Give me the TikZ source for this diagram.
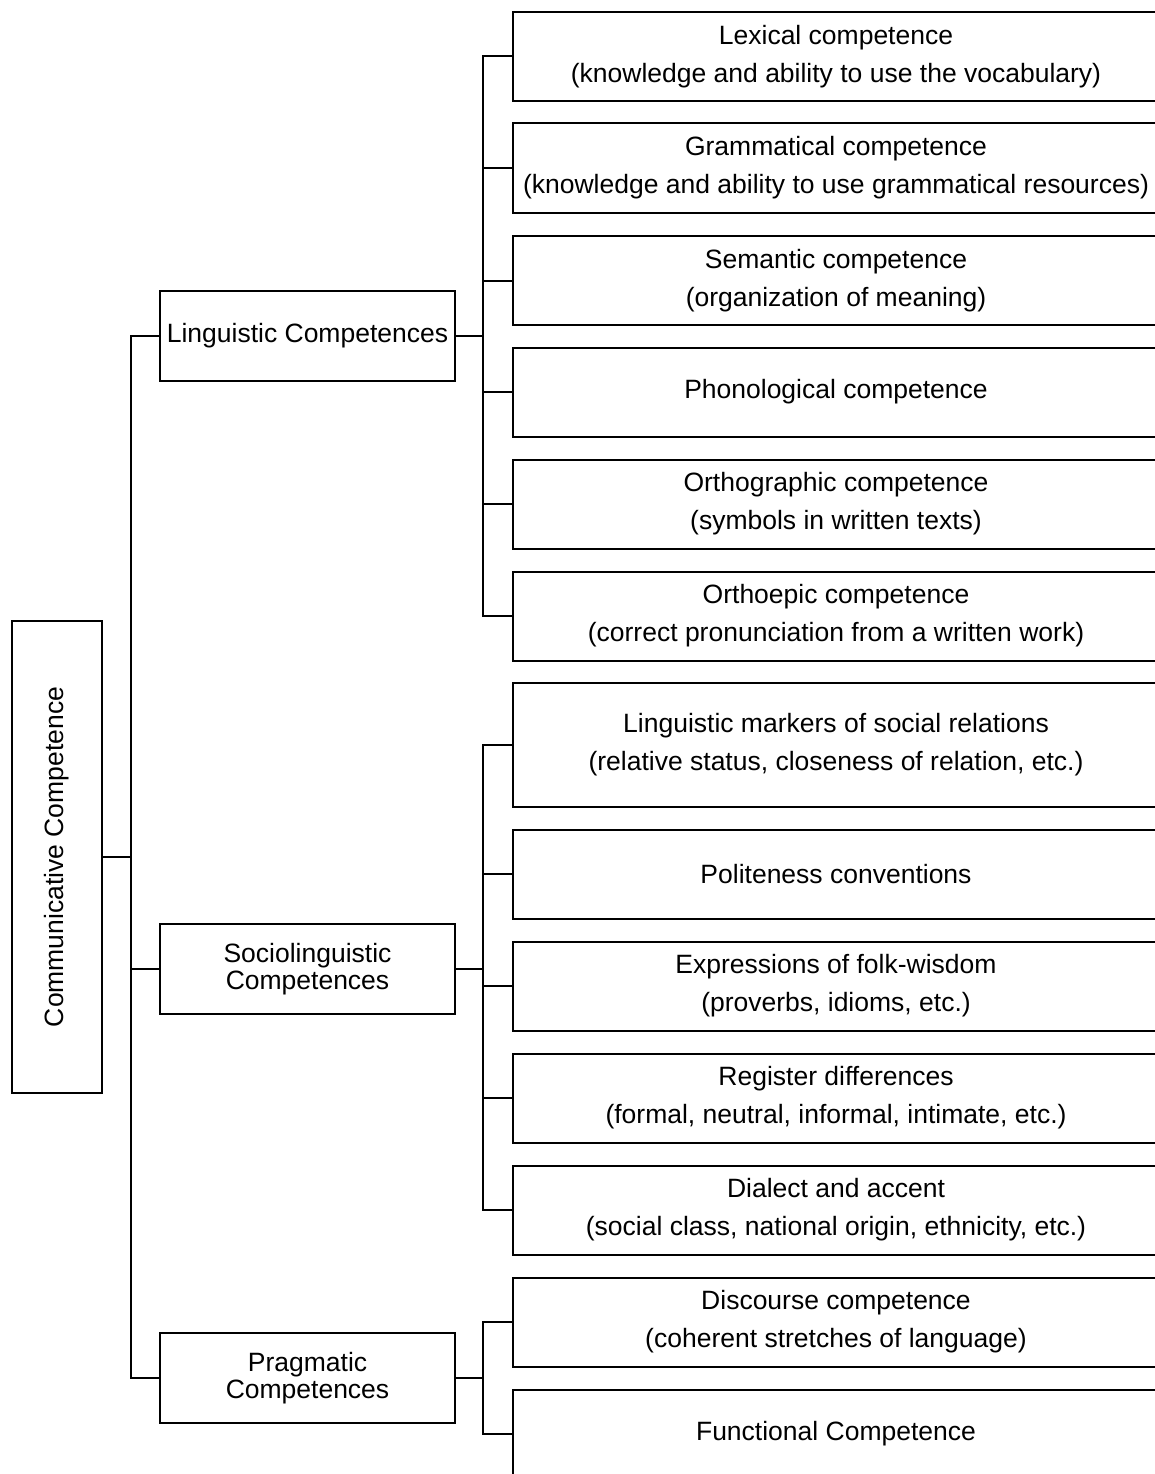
\documentclass[tikz,border=0pt]{standalone}
\usepackage{fontspec}
\setmainfont{Liberation Sans}
\begin{document}
\begin{tikzpicture}[x=1pt,y=-1pt,
  every node/.style={inner sep=0pt,outer sep=0pt},
  box/.style={draw=black,line width=2pt,align=center,font=\fontsize{26.5}{38}\selectfont},
  leaf/.style={box,minimum width=646pt,minimum height=89pt},
  tall/.style={box,minimum width=646pt,minimum height=124pt},
  mid/.style={box,minimum width=295pt,minimum height=90pt,font=\fontsize{26.5}{27.5}\selectfont},
  link/.style={line width=2pt}]
\useasboundingbox (0,0) rectangle (1155,1474);
\clip (0,0) rectangle (1155,1474);
% root
\node[box,minimum width=90pt,minimum height=472pt] (root) at (57,857) {\rotatebox{90}{Communicative Competence}};
% middle
\node[mid] (ling) at (307.5,336) {Linguistic Competences};
\node[mid] (socio) at (307.5,969) {Sociolinguistic\\Competences};
\node[mid] (prag) at (307.5,1378) {Pragmatic\\Competences};
% linguistic leaves
\node[leaf] (lex) at (836,56.5) {Lexical competence\\(knowledge and ability to use the vocabulary)};
\node[leaf] (gram) at (836,168) {Grammatical competence\\(knowledge and ability to use grammatical resources)};
\node[leaf] (sem) at (836,280.5) {Semantic competence\\(organization of meaning)};
\node[leaf] (phon) at (836,392) {Phonological competence};
\node[leaf] (orth) at (836,504) {Orthographic competence\\(symbols in written texts)};
\node[leaf] (orthoe) at (836,616) {Orthoepic competence\\(correct pronunciation from a written work)};
% sociolinguistic leaves
\node[tall] (mark) at (836,745) {Linguistic markers of social relations\\(relative status, closeness of relation, etc.)};
\node[leaf] (pol) at (836,874) {Politeness conventions};
\node[leaf] (folk) at (836,986) {Expressions of folk-wisdom\\(proverbs, idioms, etc.)};
\node[leaf] (reg) at (836,1098) {Register differences\\(formal, neutral, informal, intimate, etc.)};
\node[leaf] (dial) at (836,1210) {Dialect and accent\\(social class, national origin, ethnicity, etc.)};
% pragmatic leaves
\node[leaf] (disc) at (836,1322) {Discourse competence\\(coherent stretches of language)};
\node[leaf] (func) at (836,1434) {Functional Competence};
% connectors
\foreach \c in {ling,socio,prag}
  \draw[link] (\c.west) -- ++(-29,0) |- (root.east);
\foreach \c in {lex,gram,sem,phon,orth,orthoe}
  \draw[link] (\c.west) -- ++(-30,0) |- (ling.east);
\foreach \c in {mark,pol,folk,reg,dial}
  \draw[link] (\c.west) -- ++(-30,0) |- (socio.east);
\foreach \c in {disc,func}
  \draw[link] (\c.west) -- ++(-30,0) |- (prag.east);
\end{tikzpicture}
\end{document}
